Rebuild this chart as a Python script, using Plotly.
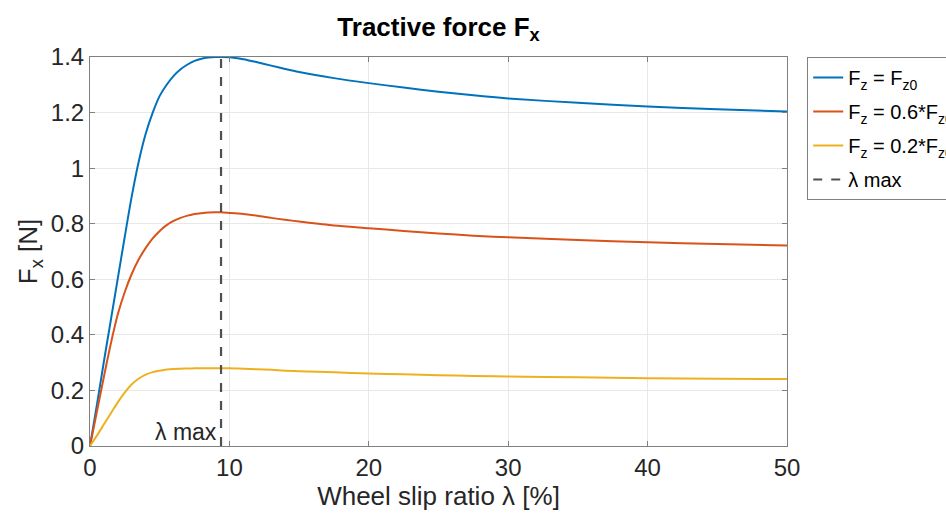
import plotly.graph_objects as go

# Wheel slip ratio samples (%)
slip = [0, 0.5, 1, 1.5, 2, 2.5, 3, 3.5, 4, 4.5, 5, 5.5, 6, 6.5, 7, 7.5, 8, 8.5, 9, 9.4,
        10, 11, 12, 13, 14, 15, 17.5, 20, 22.5, 25, 27.5, 30, 35, 40, 45, 50]

# Tractive force for the three normal loads
fx_full = [0, 0.15, 0.305, 0.455, 0.605, 0.755, 0.9, 1.025, 1.125, 1.2, 1.26, 1.30, 1.332,
           1.356, 1.373, 1.386, 1.394, 1.398, 1.4, 1.4,
           1.399, 1.392, 1.381, 1.369, 1.357, 1.346, 1.324, 1.306, 1.29, 1.275, 1.262,
           1.251, 1.235, 1.222, 1.212, 1.204]
fx_06 = [0, 0.125, 0.25, 0.37, 0.475, 0.555, 0.62, 0.672, 0.713, 0.747, 0.774, 0.795, 0.81,
         0.821, 0.829, 0.835, 0.838, 0.840, 0.841, 0.841,
         0.839, 0.835, 0.829, 0.821, 0.814, 0.808, 0.794, 0.784, 0.774, 0.765, 0.757,
         0.751, 0.741, 0.733, 0.727, 0.722]
fx_02 = [0, 0.038, 0.078, 0.118, 0.158, 0.193, 0.222, 0.243, 0.257, 0.266, 0.271, 0.275,
         0.277, 0.278, 0.279, 0.2795, 0.28, 0.28, 0.28, 0.28,
         0.28, 0.278, 0.276, 0.274, 0.271, 0.269, 0.265, 0.261, 0.258, 0.255, 0.252,
         0.25, 0.247, 0.244, 0.242, 0.241]

series_names = ["F<sub>z</sub> = F<sub>z0</sub>",
                "F<sub>z</sub> = 0.6*F<sub>z0</sub>",
                "F<sub>z</sub> = 0.2*F<sub>z0</sub>"]
series_colors = ["#0072BD", "#D95319", "#EDB120"]

lambda_max = 9.4
y_range = [0, 1.4]
x_ticks = [0, 10, 20, 30, 40, 50]
y_ticks = [0, 0.2, 0.4, 0.6, 0.8, 1, 1.2, 1.4]

FONT = "Liberation Sans, Arial, Helvetica, sans-serif"
AXIS_GRAY = "#808080"
TEXT = "#262626"

fig = go.Figure()
for i, (name, ys, col) in enumerate(zip(series_names, [fx_full, fx_06, fx_02], series_colors)):
    fig.add_trace(go.Scatter(x=slip, y=ys, mode="lines", name=name, legendgroup=f"g{i}",
                             line=dict(color=col, width=2, shape="spline", smoothing=0.8)))

fig.add_trace(go.Scatter(x=[lambda_max, lambda_max], y=y_range, mode="lines",
                         name="λ max", legendgroup="g3",
                         line=dict(color="#505050", width=2.2, dash="dash")))

fig.add_annotation(x=lambda_max, y=0.05, xref="x", yref="y", text="λ max",
                   showarrow=False, xanchor="right", yanchor="middle", xshift=-2,
                   font=dict(family=FONT, size=23, color=TEXT))

axis_common = dict(
    showline=True, linecolor=AXIS_GRAY, linewidth=1, mirror="allticks",
    ticks="inside", ticklen=5, tickcolor=AXIS_GRAY,
    showgrid=True, gridcolor="#e8e8e8", gridwidth=1,
    zeroline=False,
    tickfont=dict(family=FONT, size=24, color=TEXT),
)

fig.update_xaxes(range=[0, 50], tickvals=x_ticks,
                 title=dict(text="Wheel slip ratio λ [%]", standoff=6,
                            font=dict(family=FONT, size=26, color=TEXT)),
                 **axis_common)
fig.update_yaxes(range=y_range, tickvals=y_ticks,
                 title=dict(text="F<sub>x</sub> [N]", standoff=5,
                            font=dict(family=FONT, size=26, color=TEXT)),
                 **axis_common)

fig.update_layout(
    width=946, height=514,
    margin=dict(l=90, r=159, t=57, b=68, autoexpand=False),
    paper_bgcolor="white", plot_bgcolor="white",
    title=dict(text="<b>Tractive force F<sub>x</sub></b>", x=(90 + 787) / 2 / 946,
               xanchor="center", y=0.948, yanchor="middle",
               font=dict(family=FONT, size=26, color="black")),
    legend=dict(x=1.029, y=1, xanchor="left", yanchor="top",
                bordercolor=AXIS_GRAY, borderwidth=1, bgcolor="white",
                font=dict(family=FONT, size=20, color="black"),
                tracegroupgap=5, itemwidth=30),
    showlegend=True,
)

fig.write_html("out.html")
